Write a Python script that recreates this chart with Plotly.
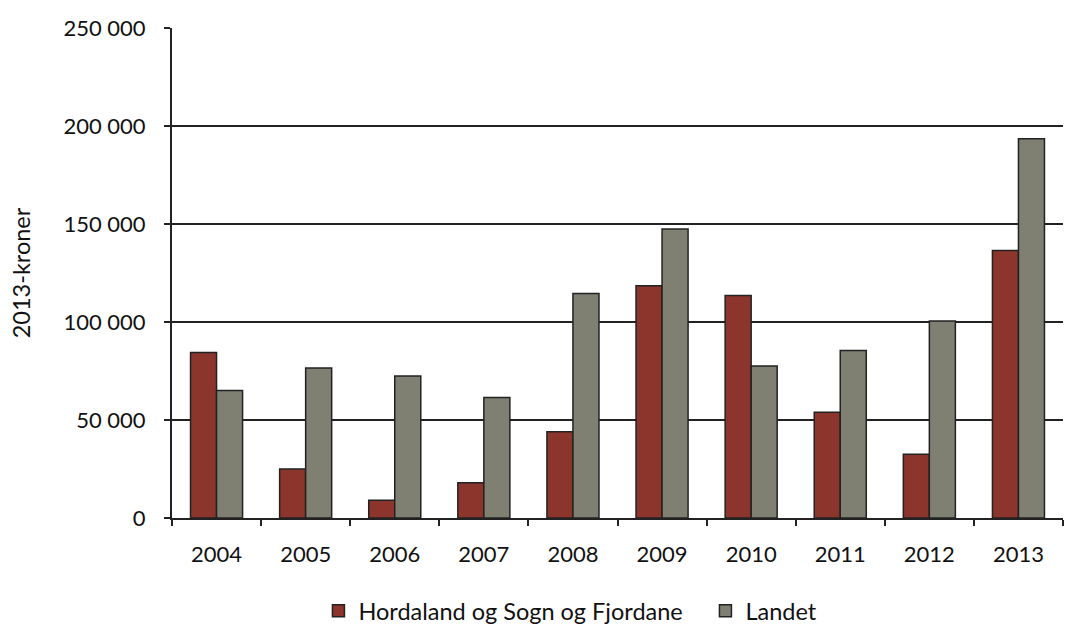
import plotly.graph_objects as go

years = ["2004", "2005", "2006", "2007", "2008", "2009", "2010", "2011", "2012", "2013"]
hordaland = [84500, 25000, 9000, 18000, 44000, 118500, 113500, 54000, 32500, 136500]
landet = [65000, 76500, 72500, 61500, 114500, 147500, 77500, 85500, 100500, 193500]
y_ticks = [0, 50000, 100000, 150000, 200000, 250000]

font_family = "Lato, Noto Sans, sans-serif"

fig = go.Figure()
fig.add_trace(go.Bar(x=years, y=hordaland, name="Hordaland og Sogn og Fjordane",
                     marker=dict(color="#8B352D", line=dict(color="#222222", width=1.5))))
fig.add_trace(go.Bar(x=years, y=landet, name="Landet",
                     marker=dict(color="#7F8072", line=dict(color="#222222", width=1.5))))

fig.update_layout(
    width=1065, height=626,
    margin=dict(l=172, r=2, t=28, b=108, autoexpand=False),
    paper_bgcolor="white", plot_bgcolor="white",
    barmode="group", bargap=0.416, bargroupgap=0,
    separators=", ",
    font=dict(family=font_family, size=22, color="#111111"),
    showlegend=True,
    legend=dict(orientation="h", xref="container", yref="container",
                x=0.299, xanchor="left", y=0.024, yanchor="middle",
                font=dict(size=23.5), traceorder="normal", entrywidth=342,
                bgcolor="rgba(0,0,0,0)"),
    xaxis=dict(type="category", showline=True, linecolor="#222222", linewidth=2,
               ticks="outside", tickson="boundaries", ticklen=6, tickwidth=1.5,
               tickcolor="#222222", showgrid=False, tickfont=dict(size=22),
               ticklabelstandoff=16, automargin=False),
    yaxis=dict(title=dict(text="2013-kroner", font=dict(size=23.5), standoff=26),
               range=[0, 250000], tickvals=y_ticks, tickformat=",d",
               showline=True, linecolor="#222222", linewidth=2,
               ticks="outside", ticklen=6, tickwidth=1.5, tickcolor="#222222",
               showgrid=True, gridcolor="#222222", gridwidth=1.5,
               zeroline=False, tickfont=dict(size=22), ticklabelstandoff=14,
               automargin=False),
)

fig.write_html("out.html", config={"displayModeBar": False},
               post_script="document.body.style.margin='0';document.body.style.overflow='hidden';")
